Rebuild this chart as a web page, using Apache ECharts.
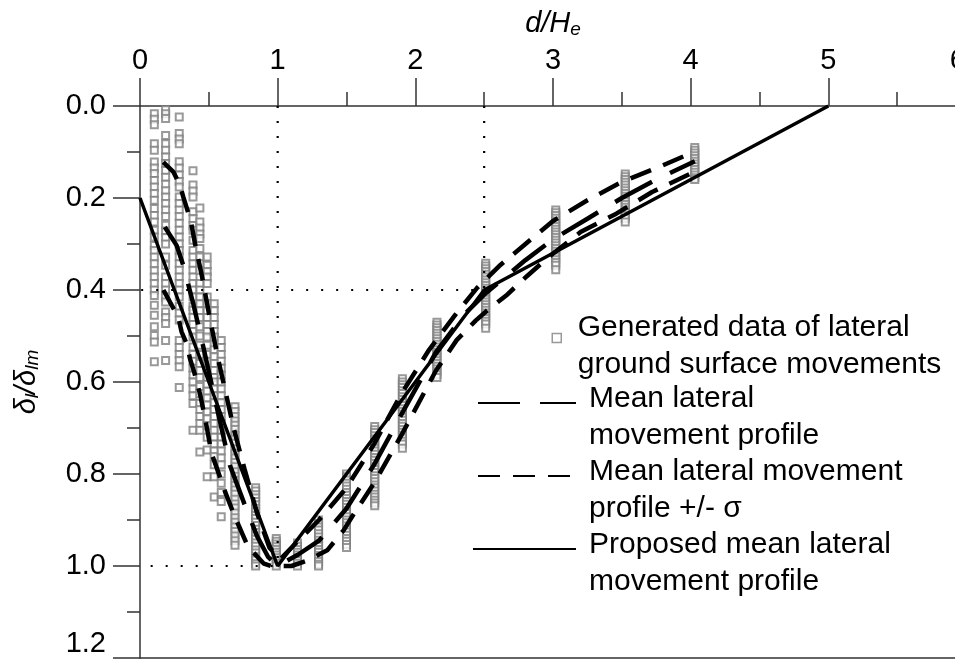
<!DOCTYPE html>
<html>
<head>
<meta charset="utf-8">
<script src="https://cdn.jsdelivr.net/npm/echarts@6/dist/echarts.min.js"></script>
<style>
html, body { margin: 0; padding: 0; background: #fff; }
#chart { width: 955px; height: 664px; }
</style>
</head>
<body>
<div id="chart"></div>
<script>
// Tick labels
const xTickLabels = ['0', '1', '2', '3', '4', '5', '6'];
const yTickLabels = ['0.0', '0.2', '0.4', '0.6', '0.8', '1.0', '1.2'];

// Generated lateral movements: one column of values per normalised distance d/He
const columnX = [0.104, 0.186, 0.285, 0.385, 0.435, 0.488, 0.539, 0.59, 0.69, 0.84,
                 0.99, 1.144, 1.297, 1.5, 1.705, 1.906, 2.157, 2.511, 3.02, 3.525, 4.03];
const columnY = [
  [0.017, 0.029, 0.041, 0.082, 0.096, 0.122, 0.135, 0.147, 0.162, 0.176, 0.19, 0.205, 0.223, 0.238, 0.252, 0.27,
   0.285, 0.303, 0.314, 0.328, 0.343, 0.358, 0.372, 0.386, 0.40, 0.412, 0.433, 0.455, 0.48, 0.499, 0.513, 0.556],
  [0.008, 0.017, 0.027, 0.064, 0.082, 0.096, 0.111, 0.125, 0.14, 0.155, 0.17, 0.184, 0.198, 0.212, 0.226, 0.24,
   0.259, 0.272, 0.286, 0.3, 0.328, 0.346, 0.372, 0.386, 0.40, 0.415, 0.426, 0.448, 0.46, 0.473, 0.51, 0.553],
  [0.024, 0.06, 0.072, 0.082, 0.121, 0.135, 0.15, 0.164, 0.176, 0.198, 0.212, 0.226, 0.24, 0.255, 0.27, 0.285,
   0.3, 0.314, 0.328, 0.343, 0.357, 0.372, 0.386, 0.40, 0.415, 0.436, 0.45, 0.465, 0.51, 0.525, 0.54, 0.553, 0.567, 0.612],
  [0.141, 0.172, 0.185, 0.198, 0.23, 0.245, 0.26, 0.27, 0.292, 0.314, 0.328, 0.343, 0.357, 0.372, 0.386, 0.40,
   0.415, 0.436, 0.444, 0.46, 0.475, 0.49, 0.502, 0.524, 0.54, 0.555, 0.57, 0.585, 0.6, 0.615, 0.63, 0.647, 0.705],
  [0.222, 0.252, 0.265, 0.278, 0.288, 0.31, 0.328, 0.343, 0.357, 0.386, 0.40, 0.415, 0.43, 0.445, 0.46, 0.48,
   0.5, 0.52, 0.54, 0.56, 0.575, 0.59, 0.61, 0.625, 0.647, 0.66, 0.675, 0.69, 0.705, 0.752],
  [0.328, 0.346, 0.36, 0.372, 0.386, 0.415, 0.43, 0.445, 0.46, 0.475, 0.49, 0.502, 0.52, 0.54, 0.555, 0.575,
   0.59, 0.605, 0.62, 0.635, 0.65, 0.665, 0.68, 0.695, 0.72, 0.748, 0.806],
  [0.43, 0.445, 0.46, 0.475, 0.49, 0.502, 0.53, 0.545, 0.56, 0.575, 0.59, 0.6, 0.615, 0.63, 0.645, 0.66,
   0.675, 0.69, 0.705, 0.72, 0.735, 0.75, 0.762, 0.78, 0.806, 0.85],
  [0.51, 0.525, 0.54, 0.555, 0.57, 0.585, 0.6, 0.615, 0.63, 0.645, 0.66, 0.675, 0.69, 0.705, 0.72, 0.735,
   0.75, 0.765, 0.78, 0.8, 0.82, 0.84, 0.86, 0.893],
  [0.654, 0.664, 0.675, 0.685, 0.694, 0.703, 0.715, 0.724, 0.733, 0.745, 0.755, 0.765, 0.775, 0.784, 0.795,
   0.805, 0.814, 0.825, 0.835, 0.844, 0.855, 0.865, 0.874, 0.885, 0.895, 0.905, 0.915, 0.925, 0.935, 0.945, 0.955],
  [0.83, 0.837, 0.845, 0.852, 0.86, 0.867, 0.875, 0.882, 0.89, 0.897, 0.905, 0.912, 0.92, 0.927, 0.935, 0.942,
   0.95, 0.957, 0.965, 0.972, 0.98, 0.987, 0.995, 1.0],
  [0.94, 0.946, 0.952, 0.958, 0.964, 0.97, 0.976, 0.982, 0.988, 0.994, 1.0],
  [0.95, 0.957, 0.964, 0.97, 0.976, 0.982, 0.988, 0.994, 1.0],
  [0.90, 0.908, 0.915, 0.922, 0.93, 0.937, 0.944, 0.95, 0.957, 0.964, 0.97, 0.977, 0.984, 0.99, 0.996, 1.0],
  [0.80, 0.806, 0.813, 0.82, 0.826, 0.833, 0.84, 0.846, 0.853, 0.86, 0.866, 0.873, 0.88, 0.886, 0.893, 0.9,
   0.906, 0.913, 0.92, 0.926, 0.933, 0.94, 0.946, 0.953, 0.96],
  [0.697, 0.704, 0.71, 0.717, 0.724, 0.73, 0.737, 0.744, 0.75, 0.757, 0.764, 0.77, 0.777, 0.784, 0.79, 0.797,
   0.804, 0.81, 0.817, 0.824, 0.83, 0.837, 0.844, 0.85, 0.857, 0.863, 0.869],
  [0.593, 0.6, 0.606, 0.612, 0.619, 0.625, 0.632, 0.638, 0.645, 0.651, 0.658, 0.664, 0.67, 0.677, 0.683, 0.69,
   0.696, 0.703, 0.709, 0.716, 0.722, 0.729, 0.735, 0.744],
  [0.47, 0.476, 0.482, 0.488, 0.494, 0.5, 0.506, 0.512, 0.518, 0.524, 0.53, 0.536, 0.542, 0.548, 0.554, 0.56,
   0.566, 0.572, 0.578, 0.584, 0.59],
  [0.342, 0.348, 0.354, 0.36, 0.366, 0.372, 0.378, 0.384, 0.39, 0.396, 0.402, 0.408, 0.414, 0.42, 0.426, 0.432,
   0.438, 0.444, 0.45, 0.456, 0.462, 0.468, 0.474, 0.483],
  [0.226, 0.232, 0.238, 0.244, 0.25, 0.256, 0.262, 0.268, 0.274, 0.28, 0.286, 0.292, 0.298, 0.304, 0.31, 0.316,
   0.322, 0.328, 0.334, 0.34, 0.346, 0.356],
  [0.148, 0.154, 0.16, 0.166, 0.172, 0.178, 0.184, 0.19, 0.196, 0.202, 0.208, 0.214, 0.22, 0.226, 0.232, 0.238,
   0.244, 0.252],
  [0.09, 0.096, 0.102, 0.108, 0.114, 0.12, 0.126, 0.132, 0.138, 0.144, 0.15, 0.156, 0.16]
];

// Profiles: [d/He, δl/δlm]
const meanProfile = [
  [0.18, 0.263], [0.266, 0.303], [0.314, 0.346], [0.387, 0.43], [0.46, 0.524], [0.55, 0.645],
  [0.653, 0.781], [0.762, 0.868], [0.85, 0.935], [0.93, 0.98], [1.0, 1.0],
  [1.15, 0.975], [1.3, 0.945], [1.5, 0.875], [1.7, 0.78], [1.9, 0.67], [2.15, 0.535], [2.35, 0.455],
  [2.5, 0.41], [2.6, 0.385], [2.8, 0.335], [3.0, 0.29], [3.25, 0.245], [3.5, 0.2], [3.75, 0.16], [4.03, 0.12]
];
const meanMinusSigma = [
  [0.169, 0.122], [0.242, 0.143], [0.29, 0.172], [0.315, 0.198], [0.37, 0.251], [0.4, 0.3], [0.45, 0.37],
  [0.5, 0.45], [0.56, 0.54], [0.62, 0.62], [0.68, 0.7], [0.76, 0.79], [0.85, 0.885], [0.94, 0.96], [1.02, 0.985],
  [1.15, 0.945], [1.3, 0.9], [1.5, 0.83], [1.7, 0.735], [1.9, 0.625], [2.1, 0.53], [2.3, 0.45], [2.45, 0.395],
  [2.62, 0.345], [2.8, 0.3], [3.0, 0.25], [3.25, 0.205], [3.5, 0.165], [3.75, 0.135], [4.0, 0.103]
];
const meanPlusSigma = [
  [0.17, 0.40], [0.23, 0.433], [0.278, 0.459], [0.302, 0.491], [0.339, 0.517], [0.363, 0.549], [0.395, 0.58],
  [0.435, 0.625], [0.471, 0.676], [0.52, 0.755], [0.58, 0.806], [0.62, 0.84], [0.689, 0.893], [0.774, 0.951],
  [0.822, 0.97], [0.9, 0.995], [0.95, 1.0],
  [1.1, 1.0], [1.2, 0.99], [1.36, 0.966], [1.48, 0.922], [1.54, 0.893], [1.7, 0.82], [1.9, 0.715],
  [2.15, 0.575], [2.3, 0.509], [2.44, 0.466], [2.52, 0.445], [2.66, 0.412], [2.81, 0.37], [2.97, 0.328],
  [3.2, 0.274], [3.46, 0.234], [3.72, 0.187], [4.0, 0.147]
];
const proposedProfile = [[0, 0.2], [1, 1.0], [2.5, 0.4], [5, 0.0]];

// Dotted guides to the profile break points
const guideAtOne = [[1, 0], [1, 1.0], [0, 1.0]];
const guideAtTwoHalf = [[2.5, 0], [2.5, 0.4], [0, 0.4]];

const legendLabels = {
  generated: ['Generated data of lateral', 'ground surface movements'],
  mean: ['Mean lateral', 'movement profile'],
  sigma: ['Mean lateral movement', 'profile +/- σ'],
  proposed: ['Proposed mean lateral', 'movement profile']
};

const scatterData = [];
columnX.forEach((x, i) => columnY[i].forEach(y => scatterData.push([x, y])));

const FONT = 'Liberation Sans, Arial, Helvetica, sans-serif';
const axisColor = '#333';
const markerGray = '#808080';

const nameRich = {
  i: { fontFamily: FONT, fontSize: 29, fontStyle: 'italic', color: '#000', lineHeight: 30,
       verticalAlign: 'top', padding: [0, 0, 3, 0] },
  s: { fontFamily: FONT, fontSize: 19, fontStyle: 'italic', color: '#000', lineHeight: 20,
       verticalAlign: 'bottom' }
};

// Legend entry: a spacer line of height `lift` keeps the icon level with the first text line
function legendEntry(name, left, top, width, height, lift, textGap, itemStyle) {
  return {
    data: [name], orient: 'vertical', left: left, top: top, padding: 0,
    itemWidth: width, itemHeight: height, selectedMode: false,
    itemStyle: itemStyle,
    formatter: n => '{g| }\n{t|' + legendLabels[n][0] + '}\n{t|' + legendLabels[n][1] + '}',
    textStyle: {
      rich: {
        g: { fontSize: 2, lineHeight: lift },
        t: { fontFamily: FONT, fontSize: 30, color: '#000', lineHeight: 36.5, padding: [0, 0, 0, textGap] }
      }
    }
  };
}
const hiddenSymbol = { color: 'rgba(0,0,0,0)', borderWidth: 0 };

const chart = echarts.init(document.getElementById('chart'), null, { renderer: 'canvas' });
chart.setOption({
  animation: false,
  backgroundColor: '#fff',
  grid: { left: 140, top: 106, right: -11, bottom: 6, containLabel: false, outerBoundsMode: 'none' },
  xAxis: [{
    type: 'value', position: 'top', min: 0, max: 6, interval: 1,
    name: '{i|d/H}{s|e}', nameLocation: 'middle', nameGap: 64,
    nameTextStyle: { rich: nameRich },
    axisLine: { show: true, onZero: false, lineStyle: { color: axisColor, width: 1.5 } },
    axisTick: { show: true, length: 28, lineStyle: { color: axisColor, width: 1.5 } },
    minorTick: { show: true, splitNumber: 2, length: 14, lineStyle: { color: axisColor, width: 1.5 } },
    splitLine: { show: false },
    axisLabel: { fontFamily: FONT, fontSize: 29, color: '#000', margin: 31,
                 showMinLabel: true, showMaxLabel: true, hideOverlap: false, alignMaxLabel: 'right',
                 formatter: v => xTickLabels[Math.round(v)] }
  }, {
    type: 'value', position: 'bottom', min: 0, max: 6,
    axisLine: { show: true, onZero: false, lineStyle: { color: axisColor, width: 1.5 } },
    axisTick: { show: false }, axisLabel: { show: false }, splitLine: { show: false }
  }],
  yAxis: {
    type: 'value', inverse: true, min: 0, max: 1.2, interval: 0.2,
    name: '{i|δ}{s|l}{i|/δ}{s|lm}', nameLocation: 'middle', nameGap: 98, nameRotate: 90,
    nameTextStyle: { rich: nameRich },
    axisLine: { show: true, onZero: false, lineStyle: { color: axisColor, width: 1.5 } },
    axisTick: { show: true, length: 27, lineStyle: { color: axisColor, width: 1.5 } },
    minorTick: { show: true, splitNumber: 2, length: 13, lineStyle: { color: axisColor, width: 1.5 } },
    splitLine: { show: false },
    axisLabel: { fontFamily: FONT, fontSize: 29, color: '#000', margin: 34,
                 verticalAlignMaxLabel: 'bottom',
                 formatter: v => yTickLabels[Math.round(v / 0.2)] }
  },
  legend: [
    legendEntry('generated', 551.5, 300.5, 9, 9, 16.5, 11.5,
                { color: '#fff', borderColor: markerGray, borderWidth: 1.5 }),
    legendEntry('mean', 477, 365.5, 98, 14, 28.5, 8, hiddenSymbol),
    legendEntry('sigma', 477, 438.5, 98, 14, 28.5, 8, hiddenSymbol),
    legendEntry('proposed', 472, 511.5, 103, 14, 28.5, 8, hiddenSymbol)
  ],
  series: [
    {
      name: 'generated', type: 'scatter', data: scatterData, symbol: 'rect', symbolSize: 7, z: 2,
      itemStyle: { color: '#fff', borderColor: markerGray, borderWidth: 2 }
    },
    {
      name: 'guide1', type: 'line', data: guideAtOne, symbol: 'none', z: 3,
      lineStyle: { color: '#000', width: 2.2, type: [2, 13] }
    },
    {
      name: 'guide2', type: 'line', data: guideAtTwoHalf, symbol: 'none', z: 3,
      lineStyle: { color: '#000', width: 2.2, type: [2, 13] }
    },
    {
      name: 'mean', type: 'line', data: meanProfile, symbol: 'none', z: 4,
      lineStyle: { color: '#000', width: 4.5, type: [42, 20] }
    },
    {
      name: 'sigma', type: 'line', data: meanMinusSigma, symbol: 'none', z: 4,
      lineStyle: { color: '#000', width: 4.5, type: [22, 13] }
    },
    {
      name: 'sigma', type: 'line', data: meanPlusSigma, symbol: 'none', z: 4,
      lineStyle: { color: '#000', width: 4.5, type: [22, 13] }
    },
    {
      name: 'proposed', type: 'line', data: proposedProfile, symbol: 'none', z: 5,
      lineStyle: { color: '#000', width: 3.5, type: 'solid' }
    }
  ]
});
</script>
</body>
</html>
